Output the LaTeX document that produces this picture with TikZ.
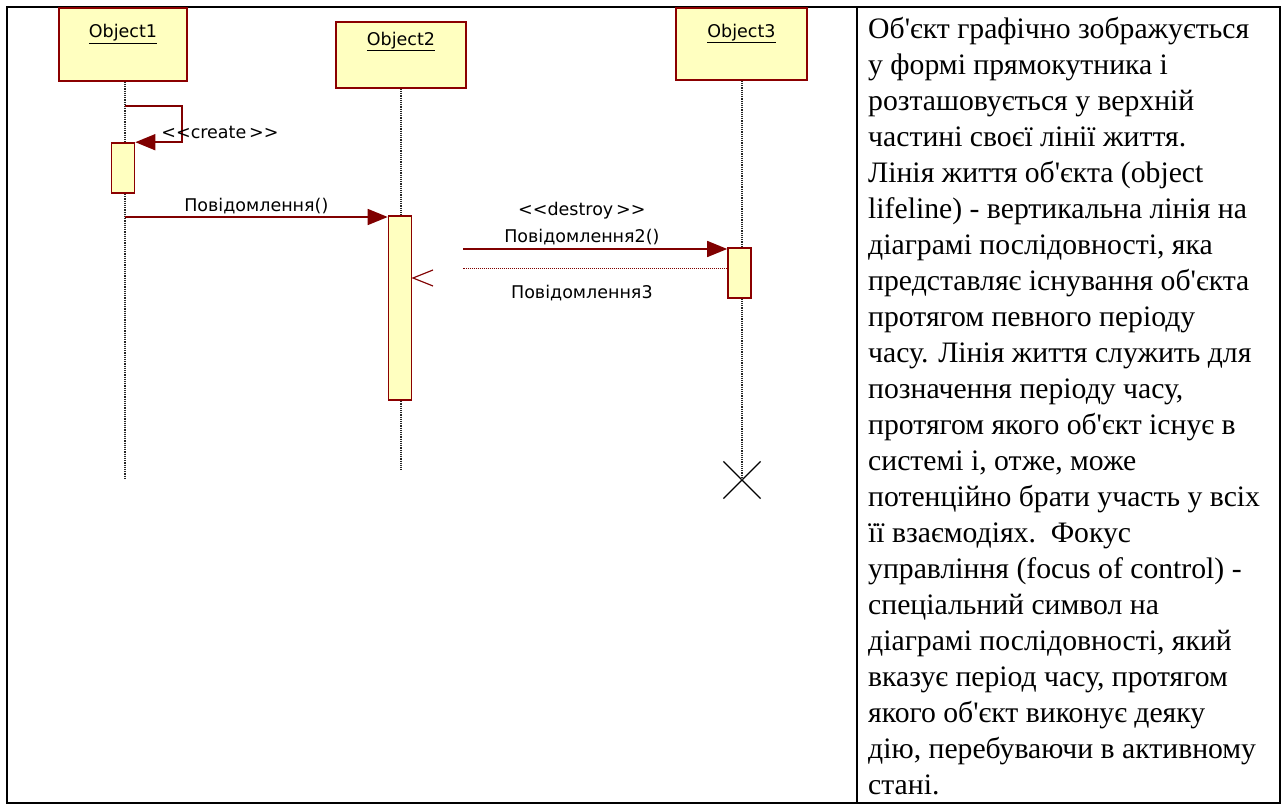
\documentclass[tikz,border=0pt]{standalone}
\usepackage{fontspec}
\setmainfont{Liberation Serif}
\newfontfamily\umlfont{DejaVu Sans}
\usetikzlibrary{arrows.meta,positioning,shapes.misc}
\definecolor{ink}{HTML}{000000}
\definecolor{objfill}{HTML}{FFFFC0}
\definecolor{objline}{HTML}{8B0000}
\definecolor{msgline}{HTML}{800000}
% straight apostrophe, kept out of the TeX mapping
\newcommand\apos{\XeTeXglyph\XeTeXcharglyph"27\relax}
\newcommand\stereo[1]{<\kern0pt<#1\kern0pt\,>\kern0pt>}

\begin{document}
\begin{tikzpicture}[x=1pt,y=-1pt,
  font=\umlfont\fontsize{17.5}{20}\selectfont,
  obj/.style={draw=objline,fill=objfill,line width=1.6pt,inner sep=0pt},
  act/.style={draw=objline,fill=objfill,line width=1.6pt,minimum width=23pt,inner sep=0pt},
  lbl/.style={inner sep=1pt},
  msg/.style={-{Triangle[length=20pt,width=16pt]},draw=msgline,line width=1.5pt},
  ret/.style={draw=msgline,line width=1pt,dash pattern=on 1pt off 1pt},
  life/.style={draw=ink!85,line width=1.2pt,densely dotted},
  frame/.style={draw=ink,line width=2.4pt}]

\useasboundingbox (0,0) rectangle (1287,810);
\draw[frame] (7,7) rectangle (1280,803);
\draw[frame] (857,7) -- (857,803);

% objects
\node[obj,minimum width=128pt,minimum height=73pt] (obj1) at (123,44.5) {};
\node[obj,minimum width=130pt,minimum height=66pt] (obj2) at (401,55) {};
\node[obj,minimum width=131pt,minimum height=72pt] (obj3) at (741.5,44) {};
\node[lbl,below=16pt of obj1.north] (name1) {\underline{Object1}};
\node[lbl,below=9.5pt of obj2.north] (name2) {\underline{Object2}};
\node[lbl,below=15.5pt of obj3.north] (name3) {\underline{Object3}};

% lifelines
\coordinate (end1) at (125,478);
\coordinate (end2) at (401,470);
\node[draw=ink,cross out,minimum size=36pt,line width=1.2pt,inner sep=0pt] (kill3) at (742,480) {};
\draw[life] (obj1.south -| end1) -- (end1);
\draw[life] (obj2.south -| end2) -- (end2);
\draw[life] (obj3.south -| kill3) -- (kill3.center);

% focus of control
\node[act,minimum height=50pt] (act1) at (123,168) {};
\node[act,minimum height=184pt] (act2) at (400,308) {};
\node[act,minimum height=50pt] (act3) at (739.5,273) {};

% messages
\coordinate (c1) at (125,106);
\draw[msg] (c1) -- ++(57,0) |- (act1.north east);
\node[lbl] (clbl) at (220,132) {\stereo{create}};

\coordinate (m1) at (125,217);
\draw[msg] (m1) -- (m1 -| act2.west) node[lbl,midway,above=1pt] (m1lbl) {Повідомлення()};

\coordinate (m2) at (463,249);
\draw[msg] (m2) -- (m2 -| act3.west) node[lbl,pos=0.45,above=2pt] (m2lbl) {Повідомлення2()};
\node[lbl,above=7pt of m2lbl] (dlbl) {\stereo{destroy}};

\coordinate (m3) at (463,269);
\draw[ret] (act3.west |- m3) -- (m3) node[lbl,pos=0.55,below=15pt] (m3lbl) {Повідомлення3};
\coordinate (rtip) at (413,278);
\draw[draw=msgline,line width=1.2pt] (rtip) ++(20,-8) -- (rtip) -- ++(20,8);

% description
\node[anchor=north west,inner sep=0pt,align=left,font=\fontsize{29.7}{36}\selectfont] (desc) at (868,17) {%
Об\apos єкт графічно зображується\\
у формі прямокутника і\\
розташовується у верхній\\
частині своєї лінії життя.\\
Лінія життя об\apos єкта (object\\
lifeline) - вертикальна лінія на\\
діаграмі послідовності, яка\\
представляє існування об\apos єкта\\
протягом певного періоду\\
часу. Лінія життя служить для\\
позначення періоду часу,\\
протягом якого об\apos єкт існує в\\
системі і, отже, може\\
потенційно брати участь у всіх\\
її взаємодіях.\ \ Фокус\\
управління (focus of control) -\\
спеціальний символ на\\
діаграмі послідовності, який\\
вказує період часу, протягом\\
якого об\apos єкт виконує деяку\\
дію, перебуваючи в активному\\
стані.};
\end{tikzpicture}
\end{document}
